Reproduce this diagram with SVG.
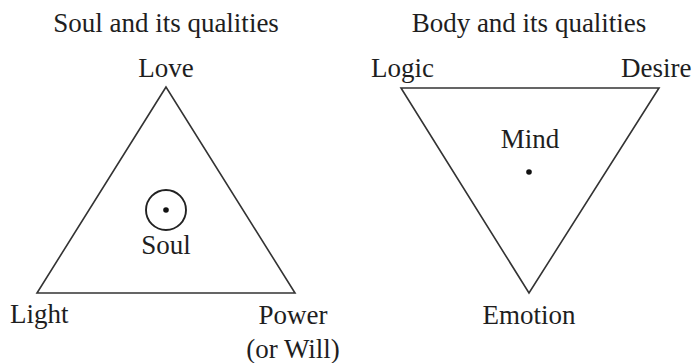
<svg xmlns="http://www.w3.org/2000/svg" width="694" height="363" viewBox="0 0 694 363">
<style>
text{font-family:"Liberation Serif","Times New Roman",serif;font-size:27px;fill:#1e1e1e}
.m{text-anchor:middle}
.s{fill:none;stroke:#333;stroke-width:1.6;stroke-linejoin:miter}
</style>
<rect width="694" height="363" fill="#fff"/>
<g id="soul-title"><text class="m" x="166" y="32">Soul and its qualities</text></g>
<g id="body-title"><text class="m" x="529" y="32">Body and its qualities</text></g>
<g id="connectors">
<polygon class="s" points="166,87 37,293 295,293"/>
<polygon class="s" points="401,88 659,88 529,293"/>
</g>
<g id="love"><text class="m" x="166" y="77">Love</text></g>
<g id="light"><text x="10" y="323">Light</text></g>
<g id="power"><text class="m" x="293" y="324">Power</text><text class="m" x="293" y="358">(or Will)</text></g>
<g id="soul">
<circle cx="166" cy="210" r="20" fill="none" stroke="#222" stroke-width="1.9"/>
<circle cx="166" cy="210" r="2.8" fill="#111"/>
<text class="m" x="166" y="254">Soul</text>
</g>
<g id="logic"><text x="371" y="77">Logic</text></g>
<g id="desire"><text x="621" y="77">Desire</text></g>
<g id="mind"><text class="m" x="530" y="148">Mind</text><circle cx="529" cy="172" r="2.8" fill="#111"/></g>
<g id="emotion"><text class="m" x="529" y="324">Emotion</text></g>
</svg>
